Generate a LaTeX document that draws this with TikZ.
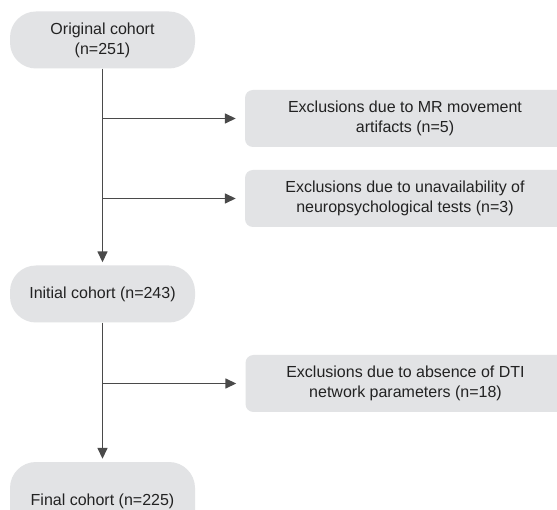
\documentclass[tikz,border=0pt]{standalone}
\usepackage{fontspec}
\setmainfont{Liberation Sans}
\usetikzlibrary{arrows.meta}
\definecolor{boxfill}{HTML}{E2E3E5}
\definecolor{linecol}{HTML}{4A4A4A}
\definecolor{txtcol}{HTML}{222222}
\begin{document}
\begin{tikzpicture}[x=1pt,y=-1pt,
  every node/.style={font=\fontsize{16}{20}\selectfont, text=txtcol, align=center, inner sep=0pt},
  pill/.style={fill=boxfill, rounded corners=26pt, minimum width=185pt, minimum height=57pt},
  exbox/.style={fill=boxfill, rounded corners=8pt, minimum width=320pt, minimum height=57pt},
  conn/.style={draw=linecol, line width=1.5pt, -{Triangle[length=11pt,width=10pt]}}]
\useasboundingbox (0,0) rectangle (557,510);
\clip (0,0) rectangle (557,510);
\fill[white] (0,0) rectangle (557,510);
\node[pill] (orig) at (102.5,40) {Original cohort\\(n=251)};
\node[pill] (init) at (102.5,294) {Initial cohort (n=243)};
\node[pill, minimum height=78pt] (final) at (102.5,501) {Final cohort (n=225)};
\node[exbox] (ex1) at (405,118.5) {Exclusions due to MR movement\\artifacts (n=5)};
\node[exbox] (ex2) at (405,198.5) {Exclusions due to unavailability of\\neuropsychological tests (n=3)};
\node[exbox] (ex3) at (405.5,383.5) {Exclusions due to absence of DTI\\network parameters (n=18)};
\coordinate (b1) at (orig.south |- ex1.west);
\coordinate (b2) at (orig.south |- ex2.west);
\coordinate (b3) at (init.south |- ex3.west);
\draw[conn, shorten >=3pt] (orig.south) -- (init.north);
\draw[conn, shorten >=3pt] (init.south) -- (final.north);
\draw[conn, shorten >=9pt] (b1) -- (ex1.west);
\draw[conn, shorten >=9pt] (b2) -- (ex2.west);
\draw[conn, shorten >=9pt] (b3) -- (ex3.west);
\end{tikzpicture}
\end{document}
